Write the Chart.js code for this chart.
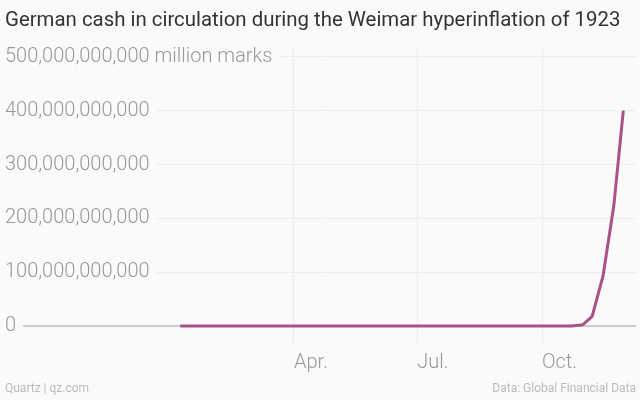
<!DOCTYPE html>
<html>
<head>
<meta charset="utf-8">
<script src="https://cdn.jsdelivr.net/npm/chart.js@4.4.1/dist/chart.umd.min.js"></script>
<style>
  body { margin: 0; background: #fafafa; }
  #wrap { position: relative; width: 640px; height: 400px; background: #fafafa; font-family: Roboto, sans-serif; overflow: hidden; }
  #title { position: absolute; left: 5px; top: 7px; font-size: 20.4px; color: #333; white-space: nowrap; }
  .foot { position: absolute; top: 381px; font-size: 12px; color: #bbb; white-space: nowrap; }
  #srcL { left: 5px; }
  #srcR { right: 4px; }
  canvas { position: absolute; left: 0; top: 0; }
</style>
</head>
<body>
<div id="wrap">
  <canvas id="chart" width="640" height="400"></canvas>
  <div id="title">German cash in circulation during the Weimar hyperinflation of 1923</div>
  <div class="foot" id="srcL">Quartz | qz.com</div>
  <div class="foot" id="srcR">Data: Global Financial Data</div>
</div>
<script>
// weekly (quarter-month) Reichsbank reports, 1923
const dates = [
  '1923-01-07', '1923-01-15', '1923-01-23', '1923-01-31',
  '1923-02-07', '1923-02-15', '1923-02-23', '1923-02-28',
  '1923-03-07', '1923-03-15', '1923-03-23', '1923-03-31',
  '1923-04-07', '1923-04-15', '1923-04-23', '1923-04-30',
  '1923-05-07', '1923-05-15', '1923-05-23', '1923-05-31',
  '1923-06-07', '1923-06-15', '1923-06-23', '1923-06-30',
  '1923-07-07', '1923-07-15', '1923-07-23', '1923-07-31',
  '1923-08-07', '1923-08-15', '1923-08-23', '1923-08-31',
  '1923-09-07', '1923-09-15', '1923-09-22', '1923-09-30',
  '1923-10-07', '1923-10-15', '1923-10-23', '1923-10-31',
  '1923-11-07', '1923-11-15', '1923-11-23', '1923-11-30'
];
// million marks
const cash = [
  1654, 1722, 1831, 1984,
  2547, 3126, 3352, 3513,
  4300, 4878, 5183, 5518,
  5840, 6012, 6204, 6546,
  6982, 7380, 7825, 8564,
  9942, 11832, 14011, 17291,
  20342, 25491, 33185, 43595,
  62327, 116403, 273905, 663200,
  1182000, 3183681, 8647000, 28228815,
  46000000, 123000000, 370000000, 2496822909,
  18000000000, 92844720743, 223927315300, 400267640302
];
const yTicks = [0, 100000000000, 200000000000, 300000000000, 400000000000, 500000000000];
const yUnit = ' million marks';
const xTickDates = ['1923-04-01', '1923-07-01', '1923-10-01'];
const xTickLabels = ['Apr.', 'Jul.', 'Oct.'];

function dayOfYear(s) {
    const p = s.split('-').map(Number);
    return (Date.UTC(p[0], p[1] - 1, p[2]) - Date.UTC(1923, 0, 1)) / 86400000;
}

const points = dates.map((d, i) => ({ x: dayOfYear(d), y: cash[i] }));
const xTickDays = xTickDates.map(dayOfYear);

const tickFont = { family: 'Roboto', size: 20, weight: 300 };

new Chart(document.getElementById('chart').getContext('2d'), {
    type: 'line',
    data: {
        datasets: [{
            data: points,
            borderColor: '#aa5189',
            borderWidth: 3,
            pointRadius: 0,
            tension: 0,
            fill: false
        }]
    },
    options: {
        responsive: false,
        animation: false,
        layout: { padding: { left: 5, right: 4, top: 50, bottom: 17 } },
        plugins: { legend: { display: false }, tooltip: { enabled: false } },
        scales: {
            x: {
                type: 'linear',
                min: -123.25,
                max: 342.36,
                afterBuildTicks: scale => { scale.ticks = xTickDays.map(v => ({ value: v })); },
                ticks: {
                    callback: value => xTickLabels[xTickDays.indexOf(value)],
                    align: 'start',
                    maxRotation: 0,
                    autoSkip: false,
                    padding: 8,
                    color: '#999',
                    font: tickFont
                },
                grid: { color: '#ededed', lineWidth: 1, drawTicks: false },
                border: { display: false }
            },
            y: {
                min: -31400000000,
                max: 512900000000,
                afterBuildTicks: scale => { scale.ticks = yTicks.map(v => ({ value: v })); },
                ticks: {
                    mirror: true,
                    padding: 0,
                    callback: value => value.toLocaleString('en-US') + (value === yTicks[yTicks.length - 1] ? yUnit : ''),
                    color: '#999',
                    font: tickFont,
                    showLabelBackdrop: true,
                    backdropColor: '#fafafa',
                    backdropPadding: { left: 5, right: 7, top: 2, bottom: 2 }
                },
                grid: {
                    color: ctx => ctx.tick && ctx.tick.value === 0 ? '#cccccc' : '#ededed',
                    lineWidth: ctx => ctx.tick && ctx.tick.value === 0 ? 2 : 1,
                    drawTicks: false
                },
                border: { display: false }
            }
        }
    }
});
</script>
</body>
</html>
